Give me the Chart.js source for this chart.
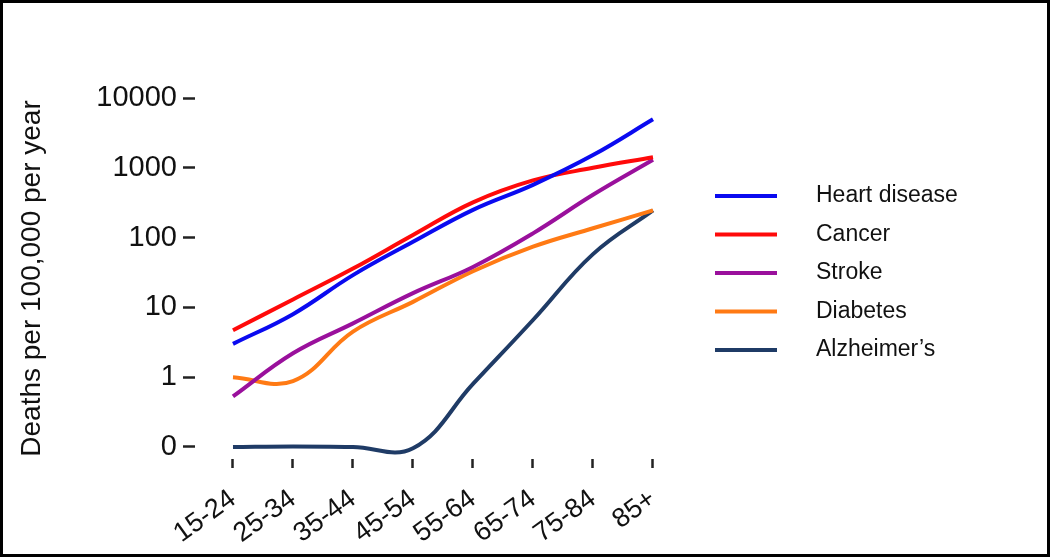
<!DOCTYPE html>
<html>
<head>
<meta charset="utf-8">
<script src="https://cdn.jsdelivr.net/npm/chart.js@4.4.1/dist/chart.umd.min.js"></script>
<style>
  html, body { margin: 0; padding: 0; background: #fff; }
  #wrap { width: 1050px; height: 557px; box-sizing: border-box; border: 3px solid #000; }
</style>
</head>
<body>
<div id="wrap"><canvas id="chart"></canvas></div>
<script>
// age groups and death rates per 100,000 per year
const ageGroups = ["15-24", "25-34", "35-44", "45-54", "55-64", "65-74", "75-84", "85+"];
const yTicks = [0.1, 1, 10, 100, 1000, 10000];

const heartDisease = [3.0, 8, 29, 87, 250, 570, 1520, 4950];
const cancer = [4.7, 13, 36, 109, 320, 660, 1000, 1420];
const stroke = [0.53, 2.2, 5.9, 16, 38, 115, 410, 1300];
const diabetes = [1.0, 0.88, 4.5, 12, 33, 74, 136, 245];
const alzheimers = [0.1, 0.102, 0.1, 0.096, 0.8, 6.6, 58, 245];

const FONT = "Arial, 'Liberation Sans', sans-serif";

function toPoints(values) {
    return values.map((v, i) => ({ x: i, y: v }));
}

function makeSet(label, values, color) {
    return {
        label: label,
        data: toPoints(values),
        borderColor: color,
        backgroundColor: color,
        borderWidth: 4,
        pointRadius: 0,
        tension: 0.4,
        fill: false,
        clip: false
    };
}

// legend on the right, drawn from the datasets
const sideLegend = {
    id: "sideLegend",
    afterDraw(chart) {
        const ctx = chart.ctx;
        ctx.save();
        ctx.font = "23px " + FONT;
        ctx.textBaseline = "middle";
        ctx.textAlign = "left";
        chart.data.datasets.forEach((ds, i) => {
            const y = 193 + i * 38.5;
            ctx.strokeStyle = ds.borderColor;
            ctx.lineWidth = 4;
            ctx.beginPath();
            ctx.moveTo(712, y);
            ctx.lineTo(774, y);
            ctx.stroke();
            ctx.fillStyle = "#111";
            ctx.fillText(ds.label, 813, y);
        });
        ctx.restore();
    }
};

const ctx = document.getElementById("chart").getContext("2d");
new Chart(ctx, {
    type: "line",
    data: {
        datasets: [
            makeSet("Heart disease", heartDisease, "#0a0af0"),
            makeSet("Cancer", cancer, "#ff0a0a"),
            makeSet("Stroke", stroke, "#9a109c"),
            makeSet("Diabetes", diabetes, "#ff7a14"),
            makeSet("Alzheimer’s", alzheimers, "#1f3b66")
        ]
    },
    plugins: [sideLegend],
    options: {
        responsive: true,
        maintainAspectRatio: false,
        animation: false,
        layout: { padding: { top: 95, right: 391, bottom: 0, left: 0 } },
        plugins: {
            legend: { display: false },
            tooltip: { enabled: false }
        },
        scales: {
            x: {
                type: "linear",
                min: -0.633,
                max: 7.05,
                afterBuildTicks: scale => {
                    scale.ticks = ageGroups.map((_, i) => ({ value: i }));
                },
                afterFit: scale => { scale.height = 95; },
                ticks: {
                    callback: v => ageGroups[v],
                    autoSkip: false,
                    minRotation: 36,
                    maxRotation: 36,
                    padding: 15,
                    color: "#111",
                    font: { family: FONT, size: 27 }
                },
                grid: {
                    drawOnChartArea: false,
                    tickLength: 9,
                    tickWidth: 2.5,
                    color: "#222"
                },
                border: { display: false }
            },
            y: {
                type: "logarithmic",
                min: 0.0673,
                max: 10000,
                afterBuildTicks: scale => {
                    scale.ticks = yTicks.map(v => ({ value: v }));
                },
                afterFit: scale => { scale.width = 192; },
                ticks: {
                    callback: v => (v === 0.1 ? "0" : String(v)),
                    padding: 6,
                    color: "#111",
                    font: { family: FONT, size: 29 }
                },
                grid: {
                    drawOnChartArea: false,
                    tickLength: 12,
                    tickWidth: 2.5,
                    color: "#222"
                },
                border: { display: false },
                title: {
                    display: true,
                    text: "Deaths per 100,000 per year",
                    color: "#111",
                    font: { family: FONT, size: 28 },
                    padding: { top: 12, bottom: 0 }
                }
            }
        }
    }
});
</script>
</body>
</html>
